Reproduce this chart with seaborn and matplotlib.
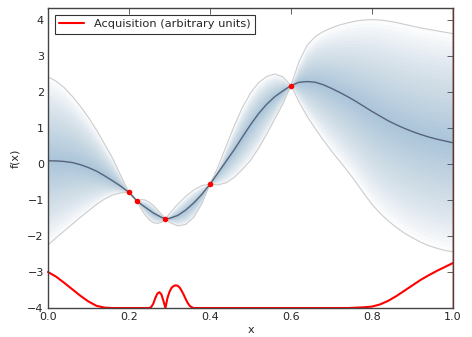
import matplotlib
matplotlib.use('Agg')
import matplotlib.pyplot as plt
import numpy as np
import pandas as pd
import seaborn as sns

# GP posterior
gp_x = [0.00, 0.02, 0.04, 0.06, 0.08, 0.10, 0.12, 0.14, 0.16, 0.18, 0.20,
        0.21, 0.22, 0.23, 0.24, 0.25, 0.26, 0.27, 0.28, 0.29,
        0.30, 0.32, 0.34, 0.36, 0.38, 0.40,
        0.42, 0.44, 0.46, 0.48, 0.50, 0.52, 0.54, 0.56, 0.58, 0.60,
        0.62, 0.64, 0.66, 0.68, 0.70, 0.72, 0.74, 0.76, 0.78, 0.80,
        0.82, 0.84, 0.86, 0.88, 0.90, 0.92, 0.94, 0.96, 0.98, 1.00]
gp_mean = [0.09, 0.085, 0.07, 0.04, -0.02, -0.10, -0.20, -0.33, -0.47, -0.62, -0.79,
           -0.91, -1.03, -1.12, -1.20, -1.28, -1.36, -1.42, -1.48, -1.52,
           -1.51, -1.43, -1.28, -1.08, -0.84, -0.56,
           -0.24, 0.08, 0.40, 0.75, 1.09, 1.40, 1.66, 1.87, 2.03, 2.18,
           2.27, 2.29, 2.27, 2.20, 2.10, 1.99, 1.87, 1.74, 1.60, 1.46,
           1.33, 1.20, 1.09, 0.99, 0.90, 0.82, 0.75, 0.69, 0.64, 0.59]
gp_upper = [2.42, 2.30, 2.12, 1.88, 1.60, 1.29, 0.94, 0.55, 0.15, -0.33, -0.79,
            -0.88, -1.03, -0.99, -1.00, -1.06, -1.15, -1.27, -1.39, -1.52,
            -1.38, -1.12, -0.90, -0.72, -0.60, -0.56,
            -0.08, 0.50, 1.06, 1.57, 1.97, 2.26, 2.43, 2.50, 2.42, 2.18,
            2.85, 3.30, 3.54, 3.68, 3.78, 3.86, 3.92, 3.97, 4.00, 4.01,
            4.00, 3.97, 3.93, 3.88, 3.83, 3.78, 3.74, 3.70, 3.66, 3.62]
gp_lower = [-2.25, -2.05, -1.86, -1.67, -1.48, -1.30, -1.12, -0.97, -0.86, -0.80, -0.79,
            -0.93, -1.03, -1.25, -1.42, -1.55, -1.63, -1.65, -1.62, -1.52,
            -1.62, -1.72, -1.68, -1.48, -1.10, -0.56,
            -0.58, -0.52, -0.37, -0.15, 0.10, 0.44, 0.83, 1.25, 1.67, 2.18,
            1.72, 1.32, 0.98, 0.66, 0.36, 0.08, -0.20, -0.50, -0.82, -1.12,
            -1.37, -1.58, -1.76, -1.92, -2.05, -2.17, -2.27, -2.34, -2.40, -2.44]

obs_x = [0.20, 0.22, 0.29, 0.40, 0.60]
obs_y = [-0.79, -1.03, -1.52, -0.56, 2.18]

acq_x = [0.00, 0.02, 0.04, 0.06, 0.08, 0.10, 0.12, 0.14, 0.16, 0.20, 0.25,
         0.255, 0.26, 0.265, 0.27, 0.275, 0.28, 0.285, 0.29,
         0.295, 0.30, 0.305, 0.31, 0.315, 0.32, 0.325, 0.33, 0.335,
         0.34, 0.345, 0.35, 0.355, 0.36, 0.50, 0.74, 0.76, 0.78,
         0.80, 0.82, 0.84, 0.86, 0.88, 0.90, 0.92, 0.94, 0.96, 0.98, 1.00]
acq_y = [-3.00, -3.13, -3.30, -3.48, -3.66, -3.82, -3.94, -3.99, -4.00, -4.00, -4.00,
         -3.97, -3.88, -3.72, -3.60, -3.56, -3.62, -3.80, -4.00,
         -3.72, -3.55, -3.44, -3.39, -3.37, -3.38, -3.43, -3.52, -3.63,
         -3.75, -3.86, -3.94, -3.98, -4.00, -4.00, -4.00, -3.99, -3.98,
         -3.96, -3.90, -3.80, -3.67, -3.52, -3.37, -3.22, -3.09, -2.97, -2.86, -2.75]
next_x = 1.0

gp = pd.DataFrame({'x': gp_x, 'mean': gp_mean, 'upper': gp_upper, 'lower': gp_lower})
obs = pd.DataFrame({'x': obs_x, 'y': obs_y})
acq = pd.DataFrame({'x': acq_x, 'y': acq_y})

sns.set_style('white')
plt.rcParams['font.family'] = ['DejaVu Sans']
plt.rcParams['axes.unicode_minus'] = True

fig = plt.figure(figsize=(4.72, 3.37), dpi=100)
ax = fig.add_axes([0.1017, 0.086, 0.858, 0.89])

# gradient shading: stacked translucent bands, densest at the mean
n_layers = 25
for i in range(n_layers):
    f = (i + 1) / n_layers
    ax.fill_between(gp['x'], gp['mean'] + f * (gp['upper'] - gp['mean']),
                    gp['mean'] + f * (gp['lower'] - gp['mean']),
                    color='#4682b4', alpha=0.018, linewidth=0)

sns.lineplot(data=gp, x='x', y='upper', ax=ax, color='#cccccc', linewidth=0.8)
sns.lineplot(data=gp, x='x', y='lower', ax=ax, color='#cccccc', linewidth=0.8)
sns.lineplot(data=gp, x='x', y='mean', ax=ax, color='#56647a', linewidth=1.0)
sns.lineplot(data=acq, x='x', y='y', ax=ax, color='red', linewidth=1.5,
             label='Acquisition (arbitrary units)', clip_on=False)
sns.scatterplot(data=obs, x='x', y='y', ax=ax, color='red', s=16,
                linewidth=0, marker='o', zorder=5)
ax.axvline(next_x, color='red', alpha=0.4, linewidth=1.2)

ax.set_xlim(0, 1)
ax.set_ylim(-4, 4.33)
ax.set_xticks([0.0, 0.2, 0.4, 0.6, 0.8, 1.0])
ax.set_yticks([-4, -3, -2, -1, 0, 1, 2, 3, 4])
ax.set_xlabel('x', fontsize=8, labelpad=2)
ax.set_ylabel('f(x)', fontsize=8, labelpad=5)
ax.tick_params(direction='in', top=True, right=True, length=4, width=0.6,
               labelsize=8, color='#444444', pad=3)
for s in ax.spines.values():
    s.set_color('#444444')
    s.set_linewidth(1.0)

leg = ax.legend(loc='upper left', fontsize=8.2, frameon=True, fancybox=False,
                borderaxespad=0.6, handlelength=2.2)
leg.get_frame().set_edgecolor('black')
leg.get_frame().set_linewidth(0.8)

fig.savefig('out.png', dpi=100)
